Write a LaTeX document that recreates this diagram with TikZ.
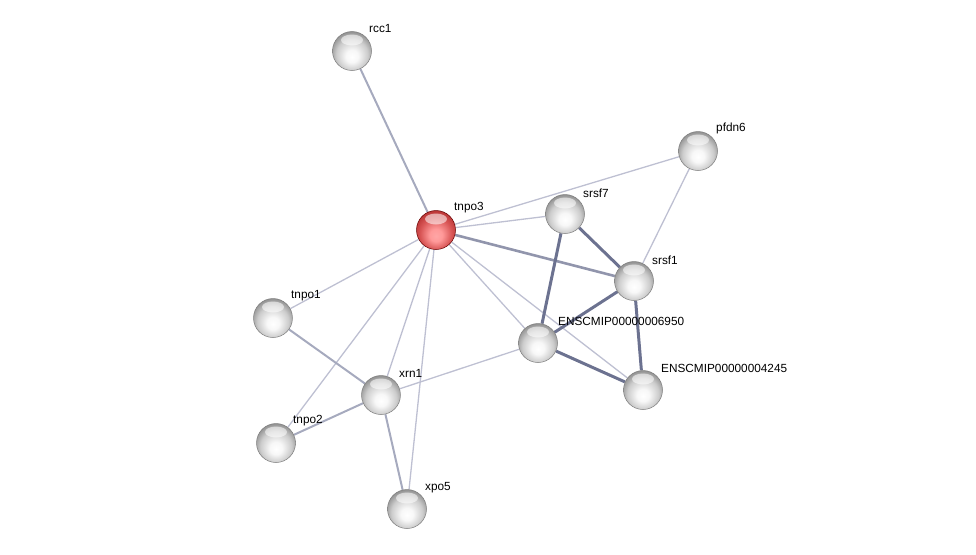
\documentclass[tikz,border=0pt]{standalone}
\usepackage{fontspec}
\setmainfont{Liberation Sans}
\usetikzlibrary{calc,backgrounds}
\definecolor{ethin}{HTML}{BEC0D2}
\definecolor{emed}{HTML}{A6AABE}
\definecolor{ethick}{HTML}{6C7290}
\definecolor{ballrim}{HTML}{7E7E7E}
\pgfdeclareradialshading{gball}{\pgfpoint{0bp}{-8bp}}{color(0bp)=(white); color(8bp)=(white!97!black); color(20bp)=(black!20); color(29bp)=(black!45); color(33bp)=(black!50); color(50bp)=(black!50)}
\pgfdeclareradialshading{rball}{\pgfpoint{0bp}{-8bp}}{color(0bp)=(red!35!white); color(8bp)=(red!40!white); color(20bp)=(red!60!white!85!black); color(29bp)=(red!65!black!80!white); color(33bp)=(red!55!black); color(50bp)=(red!55!black)}
\tikzset{
  ball/.style={circle, minimum size=39pt, inner sep=0pt, shading=gball, draw=ballrim, line width=0.5pt},
  redball/.style={circle, minimum size=39pt, inner sep=0pt, shading=rball, draw=red!40!black, line width=0.5pt},
  lbl/.style={anchor=west, inner sep=0pt, font=\fontsize{11.8}{13}\selectfont},
  thin/.style={draw=ethin, line width=1.3pt},
  med/.style={draw=emed, line width=2pt},
  medd/.style={draw=ethick!75!white, line width=2.6pt},
  thick/.style={draw=ethick, line width=3pt},
  hl/.style={fill=white, opacity=0.55, draw=none}
}
\begin{document}
\begin{tikzpicture}[x=1pt,y=-1pt]
\useasboundingbox (0,0) rectangle (976,554);
\node[ball] (rcc1) at (352,51) {};
\node[ball] (pfdn6) at (698,151) {};
\node[redball] (tnpo3) at (436,230) {};
\node[ball] (srsf7) at (565,214) {};
\node[ball] (srsf1) at (634,281) {};
\node[ball] (e6950) at (538,343) {};
\node[ball] (e4245) at (643,390) {};
\node[ball] (tnpo1) at (273,318) {};
\node[ball] (xrn1) at (381,395) {};
\node[ball] (tnpo2) at (276,443) {};
\node[ball] (xpo5) at (407,509) {};
\foreach \n in {rcc1,pfdn6,tnpo3,srsf7,srsf1,e6950,e4245,tnpo1,xrn1,tnpo2,xpo5}{
  \fill[hl] ($(\n)+(0,-11)$) ellipse (11pt and 5.5pt);
}
\node[lbl] (rcc1-l) at ($(rcc1)+(17,-23)$) {rcc1};
\node[lbl] (pfdn6-l) at ($(pfdn6)+(18,-23)$) {pfdn6};
\node[lbl] (tnpo3-l) at ($(tnpo3)+(18,-22)$) {tnpo3};
\node[lbl] (srsf7-l) at ($(srsf7)+(18,-21)$) {srsf7};
\node[lbl] (srsf1-l) at ($(srsf1)+(18,-21)$) {srsf1};
\node[lbl] (e6950-l) at ($(e6950)+(20,-22)$) {ENSCMIP00000006950};
\node[lbl] (e4245-l) at ($(e4245)+(18,-22)$) {ENSCMIP00000004245};
\node[lbl] (tnpo1-l) at ($(tnpo1)+(18,-22)$) {tnpo1};
\node[lbl] (xrn1-l) at ($(xrn1)+(18,-22)$) {xrn1};
\node[lbl] (tnpo2-l) at ($(tnpo2)+(17,-22)$) {tnpo2};
\node[lbl] (xpo5-l) at ($(xpo5)+(18,-21)$) {xpo5};
\begin{pgfonlayer}{background}
\draw[med] (rcc1) -- (tnpo3);
\draw[thin] (tnpo3) -- (pfdn6);
\draw[thin] (tnpo3) -- (srsf7);
\draw[medd] (tnpo3) -- (srsf1);
\draw[thin] (tnpo3) -- (e6950);
\draw[thin] (tnpo3) -- (e4245);
\draw[thin] (tnpo3) -- (tnpo1);
\draw[thin] (tnpo3) -- (tnpo2);
\draw[thin] (tnpo3) -- (xrn1);
\draw[thin] (tnpo3) -- (xpo5);
\draw[thin] (pfdn6) -- (srsf1);
\draw[thick] (srsf7) -- (srsf1);
\draw[thick] (srsf7) -- (e6950);
\draw[thick] (srsf1) -- (e6950);
\draw[thick] (srsf1) -- (e4245);
\draw[thick] (e6950) -- (e4245);
\draw[thin] (e6950) -- (xrn1);
\draw[med] (tnpo1) -- (xrn1);
\draw[med] (tnpo2) -- (xrn1);
\draw[med] (xrn1) -- (xpo5);
\end{pgfonlayer}
\end{tikzpicture}
\end{document}
